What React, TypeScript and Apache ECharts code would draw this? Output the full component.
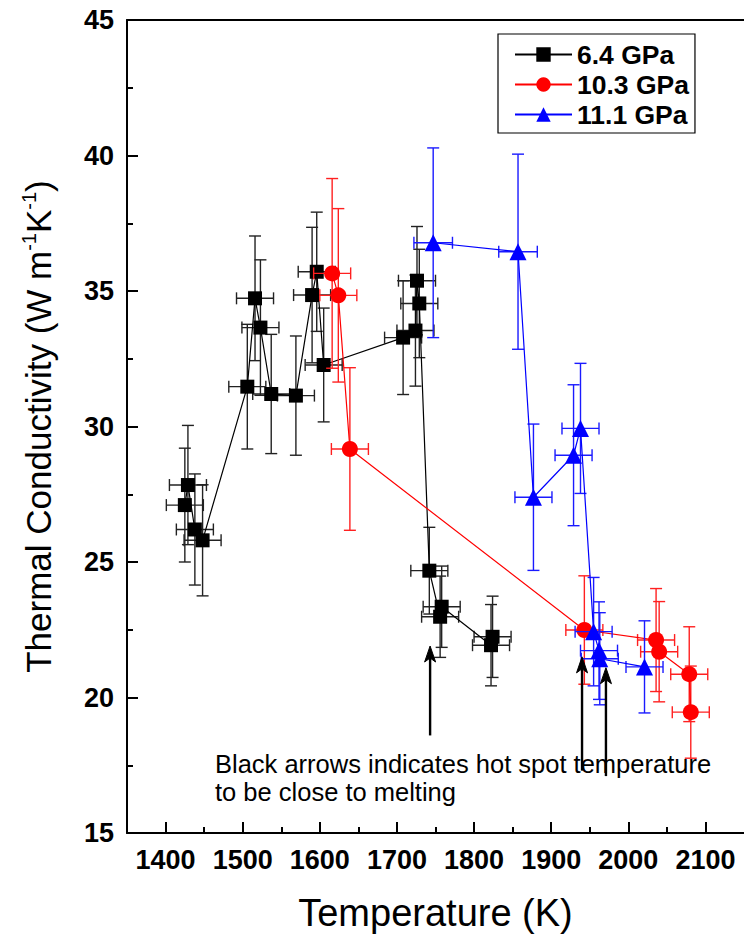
import React, { useEffect, useRef } from "react";
import * as echarts from "echarts";

// ---- Data ----
const seriesNames = ["6.4 GPa", "10.3 GPa", "11.1 GPa"];

const temp64 = [1425, 1429, 1438, 1448, 1506, 1516, 1523, 1537, 1569, 1590, 1596, 1605, 1708, 1724, 1726, 1729, 1742, 1756, 1758, 1822, 1824];
const k64 = [27.1, 27.84, 26.2, 25.8, 31.47, 34.73, 33.65, 31.2, 31.14, 34.85, 35.71, 32.27, 33.28, 33.54, 35.38, 34.54, 24.68, 22.98, 23.35, 21.93, 22.24];
const kErr64 = [2.1, 2.2, 2.05, 2.05, 2.3, 2.3, 2.5, 2.2, 2.2, 2.5, 2.2, 2.1, 2.1, 2.05, 2.0, 2.0, 1.6, 1.5, 1.5, 1.5, 1.5];
const tErr64 = [24, 24, 24, 24, 24, 24, 24, 24, 24, 24, 24, 24, 24, 24, 24, 24, 24, 24, 24, 24, 24];

const temp103 = [1616, 1624, 1639, 1943, 2036, 2040, 2079, 2081];
const k103 = [35.65, 34.84, 29.17, 22.49, 22.12, 21.69, 20.86, 19.46];
const kErr103 = [3.5, 3.2, 3.0, 2.0, 1.9, 1.85, 1.75, 1.7];
const tErr103 = [24, 24, 24, 24, 24, 24, 24, 24];

const temp111 = [1747, 1857, 1877, 1929, 1938, 1955, 1962, 1963, 2021];
const k111 = [36.78, 36.45, 27.39, 28.94, 29.93, 22.43, 21.73, 21.43, 21.13];
const kErr111 = [3.5, 3.6, 2.7, 2.6, 2.4, 2.0, 1.8, 1.7, 1.7];
const tErr111 = [25, 25, 24, 24, 24, 24, 24, 24, 24];

const xTicks = [1400, 1500, 1600, 1700, 1800, 1900, 2000, 2100];
const xMinorTicks = [1450, 1550, 1650, 1750, 1850, 1950, 2050];

const arrowT = [1743, 1940, 1971];
const arrowTip = [21.9, 21.5, 21.1];
const arrowBase = [18.6, 17.3, 17.1];

const noteLines = ["Black arrows indicates hot spot temperature", "to be close to melting"];

const FONT = "'Liberation Sans', Arial, Helvetica, sans-serif";

function zip4(a: number[], b: number[], c: number[], d: number[]) {
  return a.map((v, i) => [v, b[i], c[i], d[i]]);
}

function errRender(color: string) {
  return (params: any, api: any) => {
    const x = api.value(0);
    const y = api.value(1);
    const dx = api.value(2);
    const dy = api.value(3);
    const top = api.coord([x, y + dy]);
    const bot = api.coord([x, y - dy]);
    const l = api.coord([x - dx, y]);
    const r = api.coord([x + dx, y]);
    const c = 6;
    const st = { stroke: color, lineWidth: 1.4, fill: null };
    const ln = (x1: number, y1: number, x2: number, y2: number) => ({
      type: "line",
      shape: { x1, y1, x2, y2 },
      style: st,
    });
    return {
      type: "group",
      children: [
        ln(top[0], top[1], bot[0], bot[1]),
        ln(top[0] - c, top[1], top[0] + c, top[1]),
        ln(bot[0] - c, bot[1], bot[0] + c, bot[1]),
        ln(l[0], l[1], r[0], r[1]),
        ln(l[0], l[1] - c, l[0], l[1] + c),
        ln(r[0], r[1] - c, r[0], r[1] + c),
      ],
    };
  };
}

function arrowRender(params: any, api: any) {
  const x = api.value(0);
  const tip = api.coord([x, api.value(1)]);
  const base = api.coord([x, api.value(2)]);
  const hl = 16;
  const hw = 5.5;
  return {
    type: "group",
    children: [
      {
        type: "line",
        shape: { x1: base[0], y1: base[1], x2: tip[0], y2: tip[1] + 10 },
        style: { stroke: "#000", lineWidth: 2.4 },
      },
      {
        type: "polygon",
        shape: {
          points: [
            [tip[0], tip[1]],
            [tip[0] + hw, tip[1] + hl],
            [tip[0], tip[1] + hl - 4],
            [tip[0] - hw, tip[1] + hl],
          ],
        },
        style: { fill: "#000", stroke: "#000", lineWidth: 1 },
      },
    ],
  };
}

export default function App() {
  const ref = useRef<HTMLDivElement>(null);

  useEffect(() => {
    if (!ref.current) return;
    const chart = echarts.init(ref.current, null, { renderer: "svg" });

    const lineSeries = (name: string, t: number[], k: number[], color: string, symbol: string, size: number, z: number) => ({
      name,
      type: "line",
      data: t.map((v, i) => [v, k[i]]),
      symbol,
      symbolSize: size,
      itemStyle: { color },
      lineStyle: { color, width: 1.2 },
      z,
    });

    const errSeries = (t: number[], k: number[], te: number[], ke: number[], color: string, z: number) => ({
      type: "custom",
      renderItem: errRender(color),
      data: zip4(t, k, te, ke),
      encode: { x: 0, y: 1 },
      silent: true,
      z,
    });

    const option: any = {
      animation: false,
      textStyle: { fontFamily: FONT },
      grid: { left: 127, right: 0, top: 20, bottom: 106 },
      legend: {
        data: seriesNames,
        orient: "vertical",
        left: 498,
        top: 34,
        itemWidth: 57,
        itemHeight: 18,
        itemGap: 3,
        padding: [7, 6, 5, 16],
        borderColor: "#000",
        borderWidth: 1.2,
        textStyle: { fontSize: 26.5, fontWeight: "bold", color: "#000", fontFamily: FONT },
      },
      xAxis: [
        {
          type: "value",
          min: 1350,
          max: 2150,
          name: "Temperature (K)",
          nameLocation: "middle",
          nameGap: 61,
          nameTextStyle: { fontSize: 38, color: "#000", fontFamily: FONT },
          axisLine: { show: true, lineStyle: { color: "#000", width: 2 } },
          axisTick: { show: true, inside: true, length: 11, lineStyle: { color: "#000", width: 2 }, customValues: xTicks },
          axisLabel: {
            show: true,
            customValues: xTicks,
            margin: 13,
            fontSize: 27,
            fontWeight: "bold",
            color: "#000",
            fontFamily: FONT,
            formatter: (v: number) => String(v),
          },
          splitLine: { show: false },
        },
        {
          type: "value",
          min: 1350,
          max: 2150,
          position: "bottom",
          axisLine: { show: false },
          axisTick: { show: true, inside: true, length: 6, lineStyle: { color: "#000", width: 2 }, customValues: xMinorTicks },
          axisLabel: { show: false, customValues: xMinorTicks },
          splitLine: { show: false },
        },
        {
          type: "value",
          min: 1350,
          max: 2150,
          position: "top",
          axisLine: { show: true, lineStyle: { color: "#000", width: 2 } },
          axisTick: { show: false },
          axisLabel: { show: false },
          splitLine: { show: false },
        },
      ],
      yAxis: {
        type: "value",
        min: 15,
        max: 45,
        interval: 5,
        name: "{a|Thermal Conductivity (W m}{s|-1}{a|K}{s|-1}{a|)}",
        nameLocation: "middle",
        nameGap: 70,
        nameTextStyle: {
          color: "#000",
          fontFamily: FONT,
          rich: {
            a: { fontSize: 35, color: "#000", fontFamily: FONT, lineHeight: 38 },
            s: { fontSize: 20, color: "#000", fontFamily: FONT, lineHeight: 20, verticalAlign: "top" },
          },
        },
        axisLine: { show: true, lineStyle: { color: "#000", width: 2 } },
        axisTick: { show: true, inside: true, length: 11, lineStyle: { color: "#000", width: 2 } },
        minorTick: { show: true, splitNumber: 2, length: 6, lineStyle: { color: "#000", width: 2 } },
        axisLabel: { margin: 13, fontSize: 27, fontWeight: "bold", color: "#000", fontFamily: FONT },
        splitLine: { show: false },
        minorSplitLine: { show: false },
      },
      graphic: [
        {
          type: "text",
          x: 215,
          y: 750,
          style: {
            text: noteLines.join("\n"),
            fontSize: 25.5,
            fontFamily: FONT,
            fill: "#000",
            lineHeight: 28,
          },
        },
      ],
      series: [
        errSeries(temp64, k64, tErr64, kErr64, "#222", 2),
        lineSeries(seriesNames[0], temp64, k64, "#000", "rect", 14, 3),
        errSeries(temp103, k103, tErr103, kErr103, "#ff2020", 4),
        lineSeries(seriesNames[1], temp103, k103, "#ff0000", "circle", 16, 5),
        errSeries(temp111, k111, tErr111, kErr111, "#1a1aff", 6),
        lineSeries(seriesNames[2], temp111, k111, "#0000ff", "triangle", 17, 7),
        {
          type: "custom",
          renderItem: arrowRender,
          data: arrowT.map((v, i) => [v, arrowTip[i], arrowBase[i]]),
          encode: { x: 0, y: 1 },
          silent: true,
          z: 8,
        },
      ],
    };

    chart.setOption(option);
    return () => chart.dispose();
  }, []);

  return (
    <div
      ref={ref}
      style={{ position: "absolute", left: 0, top: 0, width: 744, height: 939, background: "#fff" }}
    />
  );
}
